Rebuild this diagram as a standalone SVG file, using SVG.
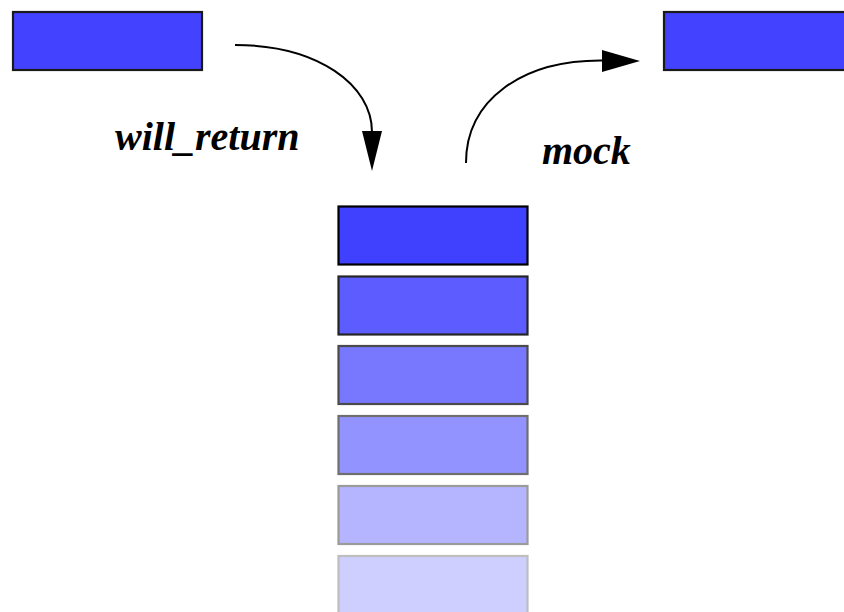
<svg xmlns="http://www.w3.org/2000/svg" width="844" height="612" viewBox="0 0 844 612">
<style>
.box{fill:#4343ff;stroke:#1a1a1a;stroke-width:2.2}
.st{fill:#4040ff;stroke:#000;stroke-width:2.2}
.lbl{font-family:"Liberation Serif",serif;font-weight:bold;font-style:italic;font-size:40px;fill:#000}
.conn{fill:none;stroke:#000;stroke-width:2}
</style>
<defs>
<marker id="ah" markerUnits="userSpaceOnUse" markerWidth="40" markerHeight="24" refX="38" refY="11" orient="auto" viewBox="0 0 40 22">
<path d="M0,0 L38,11 L0,22 Z" fill="#000"/>
</marker>
</defs>
<rect width="844" height="612" fill="#fff"/>
<g id="source"><rect class="box" x="13" y="12" width="189" height="58"/></g>
<g id="target"><rect class="box" x="664" y="12" width="189" height="58"/></g>
<g id="stack">
<g id="s1"><rect class="st" x="338.5" y="206.5" width="189" height="58"/></g>
<g id="s2" opacity="0.85"><rect class="st" x="338.5" y="276.5" width="189" height="58"/></g>
<g id="s3" opacity="0.7"><rect class="st" x="338.5" y="346" width="189" height="58"/></g>
<g id="s4" opacity="0.56"><rect class="st" x="338.5" y="416" width="189" height="58"/></g>
<g id="s5" opacity="0.39"><rect class="st" x="338.5" y="486" width="189" height="58"/></g>
<g id="s6" opacity="0.25"><rect class="st" x="338.5" y="556" width="189" height="58"/></g>
</g>
<g id="connectors">
<path class="conn" d="M235,45 C318,45 372,85 372,132"/>
<path d="M362,131 L382,131 L372,171 Z" fill="#000"/>
<path class="conn" d="M466,163 C466,100 522,60 602,60.5"/>
<path d="M602,50 L640,61 L602,72 Z" fill="#000"/>
</g>
<g id="labels">
<text class="lbl" x="115" y="150">will_return</text>
<text class="lbl" x="542" y="164">mock</text>
</g>
</svg>
